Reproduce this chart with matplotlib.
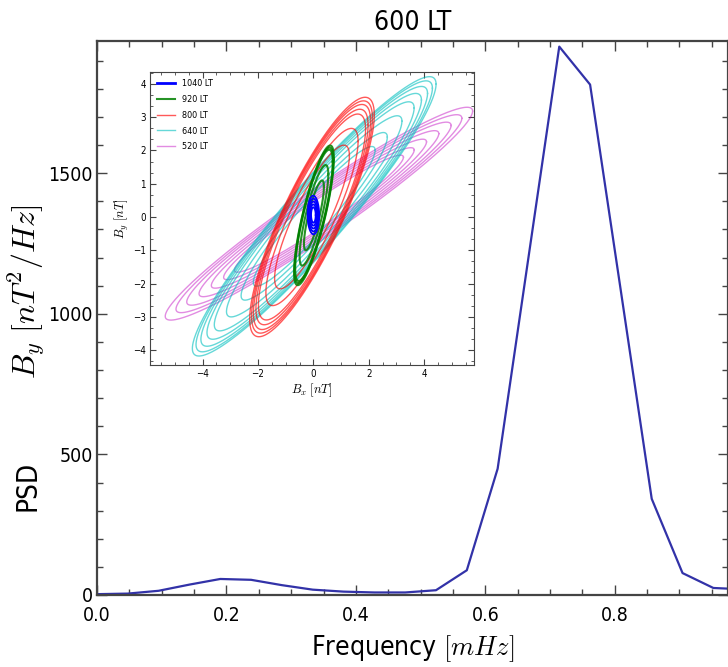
import numpy as np
import matplotlib
matplotlib.use("Agg")
import matplotlib.pyplot as plt
import matplotlib.font_manager as fm
from matplotlib.ticker import AutoMinorLocator

# the labels in the original look condensed, use a narrow face if one is installed
wanted = [('DejaVu Sans', 'condensed'), ('Liberation Sans Narrow', None),
          ('Noto Sans', 'condensed'), ('Noto Sans', 'semi-condensed'),
          ('Roboto Condensed', None), ('Open Sans', 'condensed')]
fonts = [(f.name, f.stretch) for f in fm.fontManager.ttflist]
fam, stretch = 'DejaVu Sans', 'normal'
for name, st in wanted:
    hit = [f for f in fonts if f[0] == name and (st is None or f[1] == st)]
    if hit:
        fam, stretch = name, hit[0][1]
        break
narrow = fam != 'DejaVu Sans' or stretch != 'normal'

plt.rcParams['font.family'] = [fam, 'DejaVu Sans']
plt.rcParams['font.stretch'] = stretch
plt.rcParams['mathtext.fontset'] = 'cm'
plt.rcParams['xtick.direction'] = 'in'
plt.rcParams['ytick.direction'] = 'in'
plt.rcParams['xtick.top'] = True
plt.rcParams['ytick.right'] = True

tick_fs = 14 if narrow else 13
big_fs = 19 if narrow else 18

# PSD of B_y at 600 LT, frequency in mHz
freq = np.arange(22) / 21.0
psd = [3, 5, 15, 37, 57, 54, 35, 19, 12, 9, 9, 17, 88, 449, 1200, 1950,
       1815, 1080, 342, 78, 25, 20]

# hodograms for the inset: Bx amplitude, By amplitude, phase lag, centre, loop sizes
hodo_labels = ['520 LT', '640 LT', '800 LT', '920 LT', '1040 LT']
hodo_ax = [5.55, 4.4, 2.25, 0.72, 0.21]
hodo_ay = [3.2, 4.2, 3.6, 2.1, 0.58]
hodo_phi = [0.27, 0.33, 0.55, 0.62, 1.6]
hodo_cx = [0.2, 0.03, -0.05, 0.02, 0.0]
hodo_cy = [0.1, 0.02, 0.0, 0.05, 0.06]
hodo_scales = [
    [1.0, 0.93, 0.86, 0.78, 0.7, 0.62, 0.55],
    [1.0, 0.97, 0.93, 0.88, 0.82, 0.72, 0.6, 0.5],
    [1.0, 0.97, 0.94, 0.9, 0.86, 0.74, 0.6],
    [1.0, 0.97, 0.94, 0.72, 0.5],
    [1.0, 0.85, 0.7, 0.55, 0.4],
]
hodo_colors = ['m', 'c', 'r', 'g', 'b']
hodo_alpha = [0.45, 0.6, 0.65, 0.85, 1.0]
hodo_lw = [1.0, 1.0, 1.0, 1.5, 1.3]
legend_lw = [1.0, 1.0, 1.0, 1.5, 2.0]

fig = plt.figure(figsize=(7.28, 6.67), dpi=100)

ax = fig.add_axes([97/728, 72/667, 631/728, 554/667])
ax.plot(freq, psd, color='#3232a8', lw=1.6)
ax.set_xlim(0, 0.975)
ax.set_ylim(0, 1970)
ax.set_xticks([0.0, 0.2, 0.4, 0.6, 0.8])
ax.set_yticks([0, 500, 1000, 1500])
ax.xaxis.set_minor_locator(AutoMinorLocator())
ax.yaxis.set_minor_locator(AutoMinorLocator())
ax.tick_params(which='major', length=7, width=1, labelsize=tick_fs, color='#444444')
ax.tick_params(which='minor', length=4, width=1, color='#444444')
ax.tick_params(axis='x', pad=8)
ax.tick_params(axis='y', pad=3)
for s in ax.spines.values():
    s.set_linewidth(1.6)
    s.set_color('#444444')
ax.set_title('600 LT', fontsize=big_fs, pad=8)
ax.set_xlabel('Frequency $[mHz]$', fontsize=big_fs, labelpad=6)

# y label in two pieces, the math part is set bigger in the original
fig.text(35/728, 1 - 486/667, 'PSD', rotation=90, rotation_mode='anchor',
         fontsize=20, ha='center', va='baseline')
fig.text(35/728, 1 - 292/667, r'$B_y\ [nT^2/Hz]$', rotation=90, rotation_mode='anchor',
         fontsize=23, ha='center', va='baseline')

# inset with the hodograms
ins = fig.add_axes([150/728, 1 - 365/667, 324/728, 293/667])
t = np.linspace(0, 2*np.pi, 300)
handles = []
for i in range(len(hodo_labels)):
    for j, sc in enumerate(hodo_scales[i]):
        bx = hodo_cx[i] + sc*hodo_ax[i]*np.cos(t)
        by = hodo_cy[i] + sc*hodo_ay[i]*np.cos(t - hodo_phi[i])
        ins.plot(bx, by, color=hodo_colors[i], alpha=hodo_alpha[i], lw=hodo_lw[i])
    # legend proxy
    handles.append(plt.Line2D([], [], color=hodo_colors[i], alpha=hodo_alpha[i],
                              lw=legend_lw[i], label=hodo_labels[i]))
ins.set_xlim(-5.9, 5.8)
ins.set_ylim(-4.45, 4.36)
ins.set_xticks([-4, -2, 0, 2, 4])
ins.set_yticks([-4, -3, -2, -1, 0, 1, 2, 3, 4])
ins.xaxis.set_minor_locator(AutoMinorLocator())
ins.yaxis.set_minor_locator(AutoMinorLocator(3))
ins.tick_params(which='major', length=4, labelsize=7, pad=3, color='#444444')
ins.tick_params(which='minor', length=2, color='#444444')
for s in ins.spines.values():
    s.set_color('#444444')
ins.set_xlabel('$B_x$ $[nT]$', fontsize=9, labelpad=2)
ins.set_ylabel('$B_y$ $[nT]$', fontsize=9, labelpad=1)
ins.legend(handles=handles[::-1], loc='upper left', frameon=False, fontsize=6.5,
           handlelength=2.0, labelspacing=0.75, borderaxespad=0.4)

fig.savefig('out.png', dpi=100)
